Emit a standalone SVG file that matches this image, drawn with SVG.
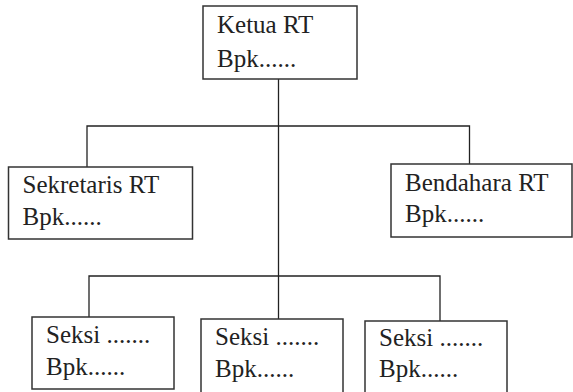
<svg xmlns="http://www.w3.org/2000/svg" width="573" height="392" viewBox="0 0 573 392">
<style>
.box{fill:#fff;stroke:#333;stroke-width:1.5}
.ln{fill:none;stroke:#222;stroke-width:1.3}
</style>
<rect width="573" height="392" fill="#fff"/>
<g id="connectors">
<line class="ln" x1="278.5" y1="79" x2="278.5" y2="319"/>
<polyline class="ln" points="87,167 87,126 469.5,126 469.5,164"/>
<polyline class="ln" points="89,317 89,276 440,276 440,321"/>
</g>
<g id="ketua">
<rect class="box" x="203" y="6" width="154" height="73"/>
<text font-family="Liberation Serif" font-size="25" fill="#222" x="217" y="33">Ketua RT</text>
<text font-family="Liberation Serif" font-size="25" fill="#222" x="217" y="67">Bpk......</text>
</g>
<g id="sekretaris">
<rect class="box" x="8.5" y="167" width="184" height="72"/>
<text font-family="Liberation Serif" font-size="25" fill="#222" x="22.5" y="193">Sekretaris RT</text>
<text font-family="Liberation Serif" font-size="25" fill="#222" x="22.5" y="225">Bpk......</text>
</g>
<g id="bendahara">
<rect class="box" x="391" y="164" width="181" height="73"/>
<text font-family="Liberation Serif" font-size="25" fill="#222" x="405" y="191">Bendahara RT</text>
<text font-family="Liberation Serif" font-size="25" fill="#222" x="405" y="222">Bpk......</text>
</g>
<g id="seksi1">
<rect class="box" x="32" y="317" width="142" height="72"/>
<text font-family="Liberation Serif" font-size="25" fill="#222" x="46" y="343">Seksi .......</text>
<text font-family="Liberation Serif" font-size="25" fill="#222" x="46" y="375">Bpk......</text>
</g>
<g id="seksi2">
<rect class="box" x="201" y="319" width="142" height="76"/>
<text font-family="Liberation Serif" font-size="25" fill="#222" x="215" y="345">Seksi .......</text>
<text font-family="Liberation Serif" font-size="25" fill="#222" x="215" y="377">Bpk......</text>
</g>
<g id="seksi3">
<rect class="box" x="365" y="321" width="142" height="76"/>
<text font-family="Liberation Serif" font-size="25" fill="#222" x="379" y="346">Seksi .......</text>
<text font-family="Liberation Serif" font-size="25" fill="#222" x="379" y="377">Bpk......</text>
</g>
</svg>
